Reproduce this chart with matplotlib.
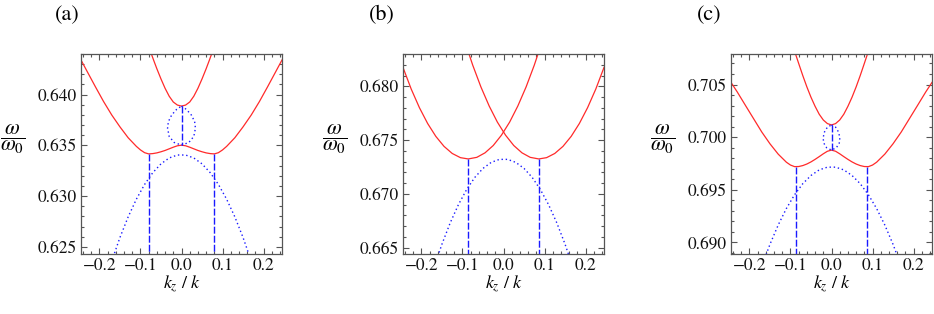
import numpy as np
import matplotlib
matplotlib.use('Agg')
import matplotlib.pyplot as plt
from matplotlib.ticker import MultipleLocator, FuncFormatter

plt.rcParams['font.family'] = ['STIXGeneral', 'DejaVu Serif']
plt.rcParams['mathtext.fontset'] = 'stix'

# ---- panel (a) ----
a_x_low = [-0.245, -0.23, -0.21, -0.19, -0.17, -0.15, -0.13, -0.11, -0.10, -0.09, -0.08, -0.07, -0.06, -0.05,
           -0.04, -0.03, -0.02, -0.01, 0.0, 0.01, 0.02, 0.03, 0.04, 0.05, 0.06, 0.07, 0.08, 0.09, 0.10, 0.11,
           0.13, 0.15, 0.17, 0.19, 0.21, 0.23, 0.245]
a_y_low = [0.64341, 0.64228, 0.64078, 0.63932, 0.63799, 0.63682, 0.63575, 0.63490, 0.63455, 0.63428, 0.63416,
           0.63419, 0.63426, 0.63437, 0.63450, 0.63466, 0.63482, 0.63496, 0.63502, 0.63496, 0.63482, 0.63466,
           0.63450, 0.63437, 0.63426, 0.63419, 0.63416, 0.63428, 0.63455, 0.63490, 0.63575, 0.63682, 0.63799,
           0.63932, 0.64078, 0.64228, 0.64341]
a_x_up = [-0.076, -0.067, -0.06, -0.05, -0.04, -0.03, -0.02, -0.01, 0.0, 0.01, 0.02, 0.03, 0.04, 0.05, 0.06, 0.067, 0.076]
a_y_up = [0.64428, 0.64329, 0.64254, 0.64154, 0.64062, 0.63984, 0.63927, 0.63897, 0.63887, 0.63897, 0.63927,
          0.63984, 0.64062, 0.64154, 0.64254, 0.64329, 0.64428]
dot_x = [-0.17, -0.15, -0.13, -0.11, -0.09, -0.07, -0.05, -0.03, -0.01, 0.01, 0.03, 0.05, 0.07, 0.09, 0.11, 0.13, 0.15, 0.17]
a_y_dot = [0.62361, 0.62593, 0.62796, 0.62970, 0.63115, 0.63231, 0.63318, 0.63376, 0.63405, 0.63405, 0.63376,
           0.63318, 0.63231, 0.63115, 0.62970, 0.62796, 0.62593, 0.62361]
a_x_oval = [0.0, 0.012, 0.024, 0.032, 0.034, 0.030, 0.018, 0.0, -0.018, -0.030, -0.034, -0.032, -0.024, -0.012, 0.0]
a_y_oval = [0.63887, 0.63854, 0.63799, 0.63734, 0.63669, 0.63588, 0.63529, 0.63502, 0.63529, 0.63588, 0.63669,
            0.63734, 0.63799, 0.63854, 0.63887]
a_vx = [-0.079, 0.0, 0.079]
a_vtop = [0.63416, 0.63887, 0.63416]
a_vbot = [0.6243, 0.63502, 0.6243]

# ---- panel (b) ----
b_x_left = [-0.245, -0.225, -0.205, -0.185, -0.165, -0.145, -0.125, -0.105, -0.086, -0.065, -0.045, -0.025,
            -0.005, 0.015, 0.035, 0.055, 0.075, 0.090]
b_y_left = [0.68175, 0.67974, 0.67801, 0.67654, 0.67534, 0.67441, 0.67375, 0.67336, 0.67324, 0.67339, 0.67381,
            0.67449, 0.67545, 0.67667, 0.67817, 0.67993, 0.68196, 0.68367]
b_x_right = [-0.090, -0.075, -0.055, -0.035, -0.015, 0.005, 0.025, 0.045, 0.065, 0.086, 0.105, 0.125, 0.145,
             0.165, 0.185, 0.205, 0.225, 0.245]
b_y_right = [0.68367, 0.68196, 0.67993, 0.67817, 0.67667, 0.67545, 0.67449, 0.67381, 0.67339, 0.67324, 0.67336,
             0.67375, 0.67441, 0.67534, 0.67654, 0.67801, 0.67974, 0.68175]
b_y_dot = [0.66307, 0.66532, 0.66729, 0.66898, 0.67039, 0.67152, 0.67236, 0.67292, 0.67320, 0.67320, 0.67292,
           0.67236, 0.67152, 0.67039, 0.66898, 0.66729, 0.66532, 0.66307]
b_vx = [-0.086, 0.086]
b_vtop = [0.67324, 0.67324]
b_vbot = [0.6644, 0.6644]

# ---- panel (c) ----
c_y_low = [0.70520, 0.70431, 0.70303, 0.70176, 0.70049, 0.69937, 0.69839, 0.69762, 0.69735, 0.69720, 0.69721,
           0.69730, 0.69745, 0.69765, 0.69789, 0.69815, 0.69842, 0.69866, 0.69877, 0.69866, 0.69842, 0.69815,
           0.69789, 0.69765, 0.69745, 0.69730, 0.69721, 0.69720, 0.69735, 0.69762, 0.69839, 0.69937, 0.70049,
           0.70176, 0.70303, 0.70431, 0.70520]
c_x_up = [-0.089, -0.08, -0.07, -0.06, -0.05, -0.04, -0.03, -0.02, -0.01, 0.0, 0.01, 0.02, 0.03, 0.04, 0.05,
          0.06, 0.07, 0.08, 0.089]
c_y_up = [0.70805, 0.70700, 0.70585, 0.70477, 0.70379, 0.70293, 0.70218, 0.70163, 0.70129, 0.70116, 0.70129,
          0.70163, 0.70218, 0.70293, 0.70379, 0.70477, 0.70585, 0.70700, 0.70805]
c_y_dot = [0.68773, 0.68982, 0.69165, 0.69322, 0.69453, 0.69558, 0.69636, 0.69689, 0.69715, 0.69715, 0.69689,
           0.69636, 0.69558, 0.69453, 0.69322, 0.69165, 0.68982, 0.68773]
c_x_oval = [0.0, 0.010, 0.017, 0.0204, 0.019, 0.012, 0.0, -0.012, -0.019, -0.0204, -0.017, -0.010, 0.0]
c_y_oval = [0.70116, 0.70095, 0.70050, 0.69995, 0.69945, 0.69900, 0.69877, 0.69900, 0.69945, 0.69995, 0.70050,
            0.70095, 0.70116]
c_vx = [-0.086, 0.0, 0.086]
c_vtop = [0.69720, 0.70116, 0.69720]
c_vbot = [0.6889, 0.69877, 0.6889]

ylims = [(0.6243, 0.6440), (0.6644, 0.6830), (0.6889, 0.7079)]
yticks = [[0.625, 0.630, 0.635, 0.640], [0.665, 0.670, 0.675, 0.680], [0.690, 0.695, 0.700, 0.705]]
titles = ['(a)', '(b)', '(c)']

RED = '#ff2a2a'
BLUE = '#1a1aff'
FRAME = '#555555'

fig = plt.figure(figsize=(9.34, 3.14), dpi=100)
W, H = 934.0, 314.0
lefts = [81, 403, 731]
title_x = [67, 382, 709]
axs = []
for i in range(3):
    ax = fig.add_axes([lefts[i] / W, (H - 254) / H, 201 / W, 200 / H])
    axs.append(ax)

def style(ax, i):
    ax.set_xlim(-0.245, 0.245)
    ax.set_ylim(*ylims[i])
    ax.xaxis.set_major_locator(MultipleLocator(0.1))
    ax.xaxis.set_minor_locator(MultipleLocator(0.02))
    ax.set_yticks(yticks[i])
    ax.yaxis.set_minor_locator(MultipleLocator(0.001))
    ax.xaxis.set_major_formatter(FuncFormatter(lambda v, p: ('%.1f' % v).replace('-0.0', '0.0').replace('-', '\u2212')))
    ax.yaxis.set_major_formatter(FuncFormatter(lambda v, p: '%.3f' % v))
    ax.tick_params(which='both', direction='in', top=True, right=True, color=FRAME, width=0.8)
    ax.tick_params(which='major', length=4.5, labelsize=12.5, pad=3, labelcolor='#111111')
    ax.tick_params(which='minor', length=2.3)
    for s in ax.spines.values():
        s.set_color(FRAME)
        s.set_linewidth(0.9)
    ax.set_xlabel(r'$k_z\ /\ k$', fontsize=13, labelpad=0)
    ax.text(-0.338, 0.575, r'$\dfrac{\omega}{\omega_0}$', transform=ax.transAxes, fontsize=15.5,
            ha='center', va='center')
    fig.text(title_x[i] / W, 1 - 15 / H, titles[i], fontsize=16, ha='center', va='center')

lw = 0.9
# (a)
ax = axs[0]
ax.plot(a_x_low, a_y_low, color=RED, lw=lw)
ax.plot(a_x_up, a_y_up, color=RED, lw=lw)
ax.plot(dot_x, a_y_dot, color=BLUE, lw=1.0, ls=(0, (1, 2)))
ax.plot(a_x_oval, a_y_oval, color=BLUE, lw=1.0, ls=(0, (1, 2)))
for x, t, b in zip(a_vx, a_vtop, a_vbot):
    ax.plot([x, x], [t, b], color=BLUE, lw=1.0, ls=(0, (5, 1.5)))
style(ax, 0)

# (b)
ax = axs[1]
ax.plot(b_x_left, b_y_left, color=RED, lw=lw)
ax.plot(b_x_right, b_y_right, color=RED, lw=lw)
ax.plot(dot_x, b_y_dot, color=BLUE, lw=1.0, ls=(0, (1, 2)))
for x, t, b in zip(b_vx, b_vtop, b_vbot):
    ax.plot([x, x], [t, b], color=BLUE, lw=1.0, ls=(0, (5, 1.5)))
style(ax, 1)

# (c)
ax = axs[2]
ax.plot(a_x_low, c_y_low, color=RED, lw=lw)
ax.plot(c_x_up, c_y_up, color=RED, lw=lw)
ax.plot(dot_x, c_y_dot, color=BLUE, lw=1.0, ls=(0, (1, 2)))
ax.plot(c_x_oval, c_y_oval, color=BLUE, lw=1.0, ls=(0, (1, 2)))
for x, t, b in zip(c_vx, c_vtop, c_vbot):
    ax.plot([x, x], [t, b], color=BLUE, lw=1.0, ls=(0, (5, 1.5)))
style(ax, 2)

fig.savefig('out.png', dpi=100)
